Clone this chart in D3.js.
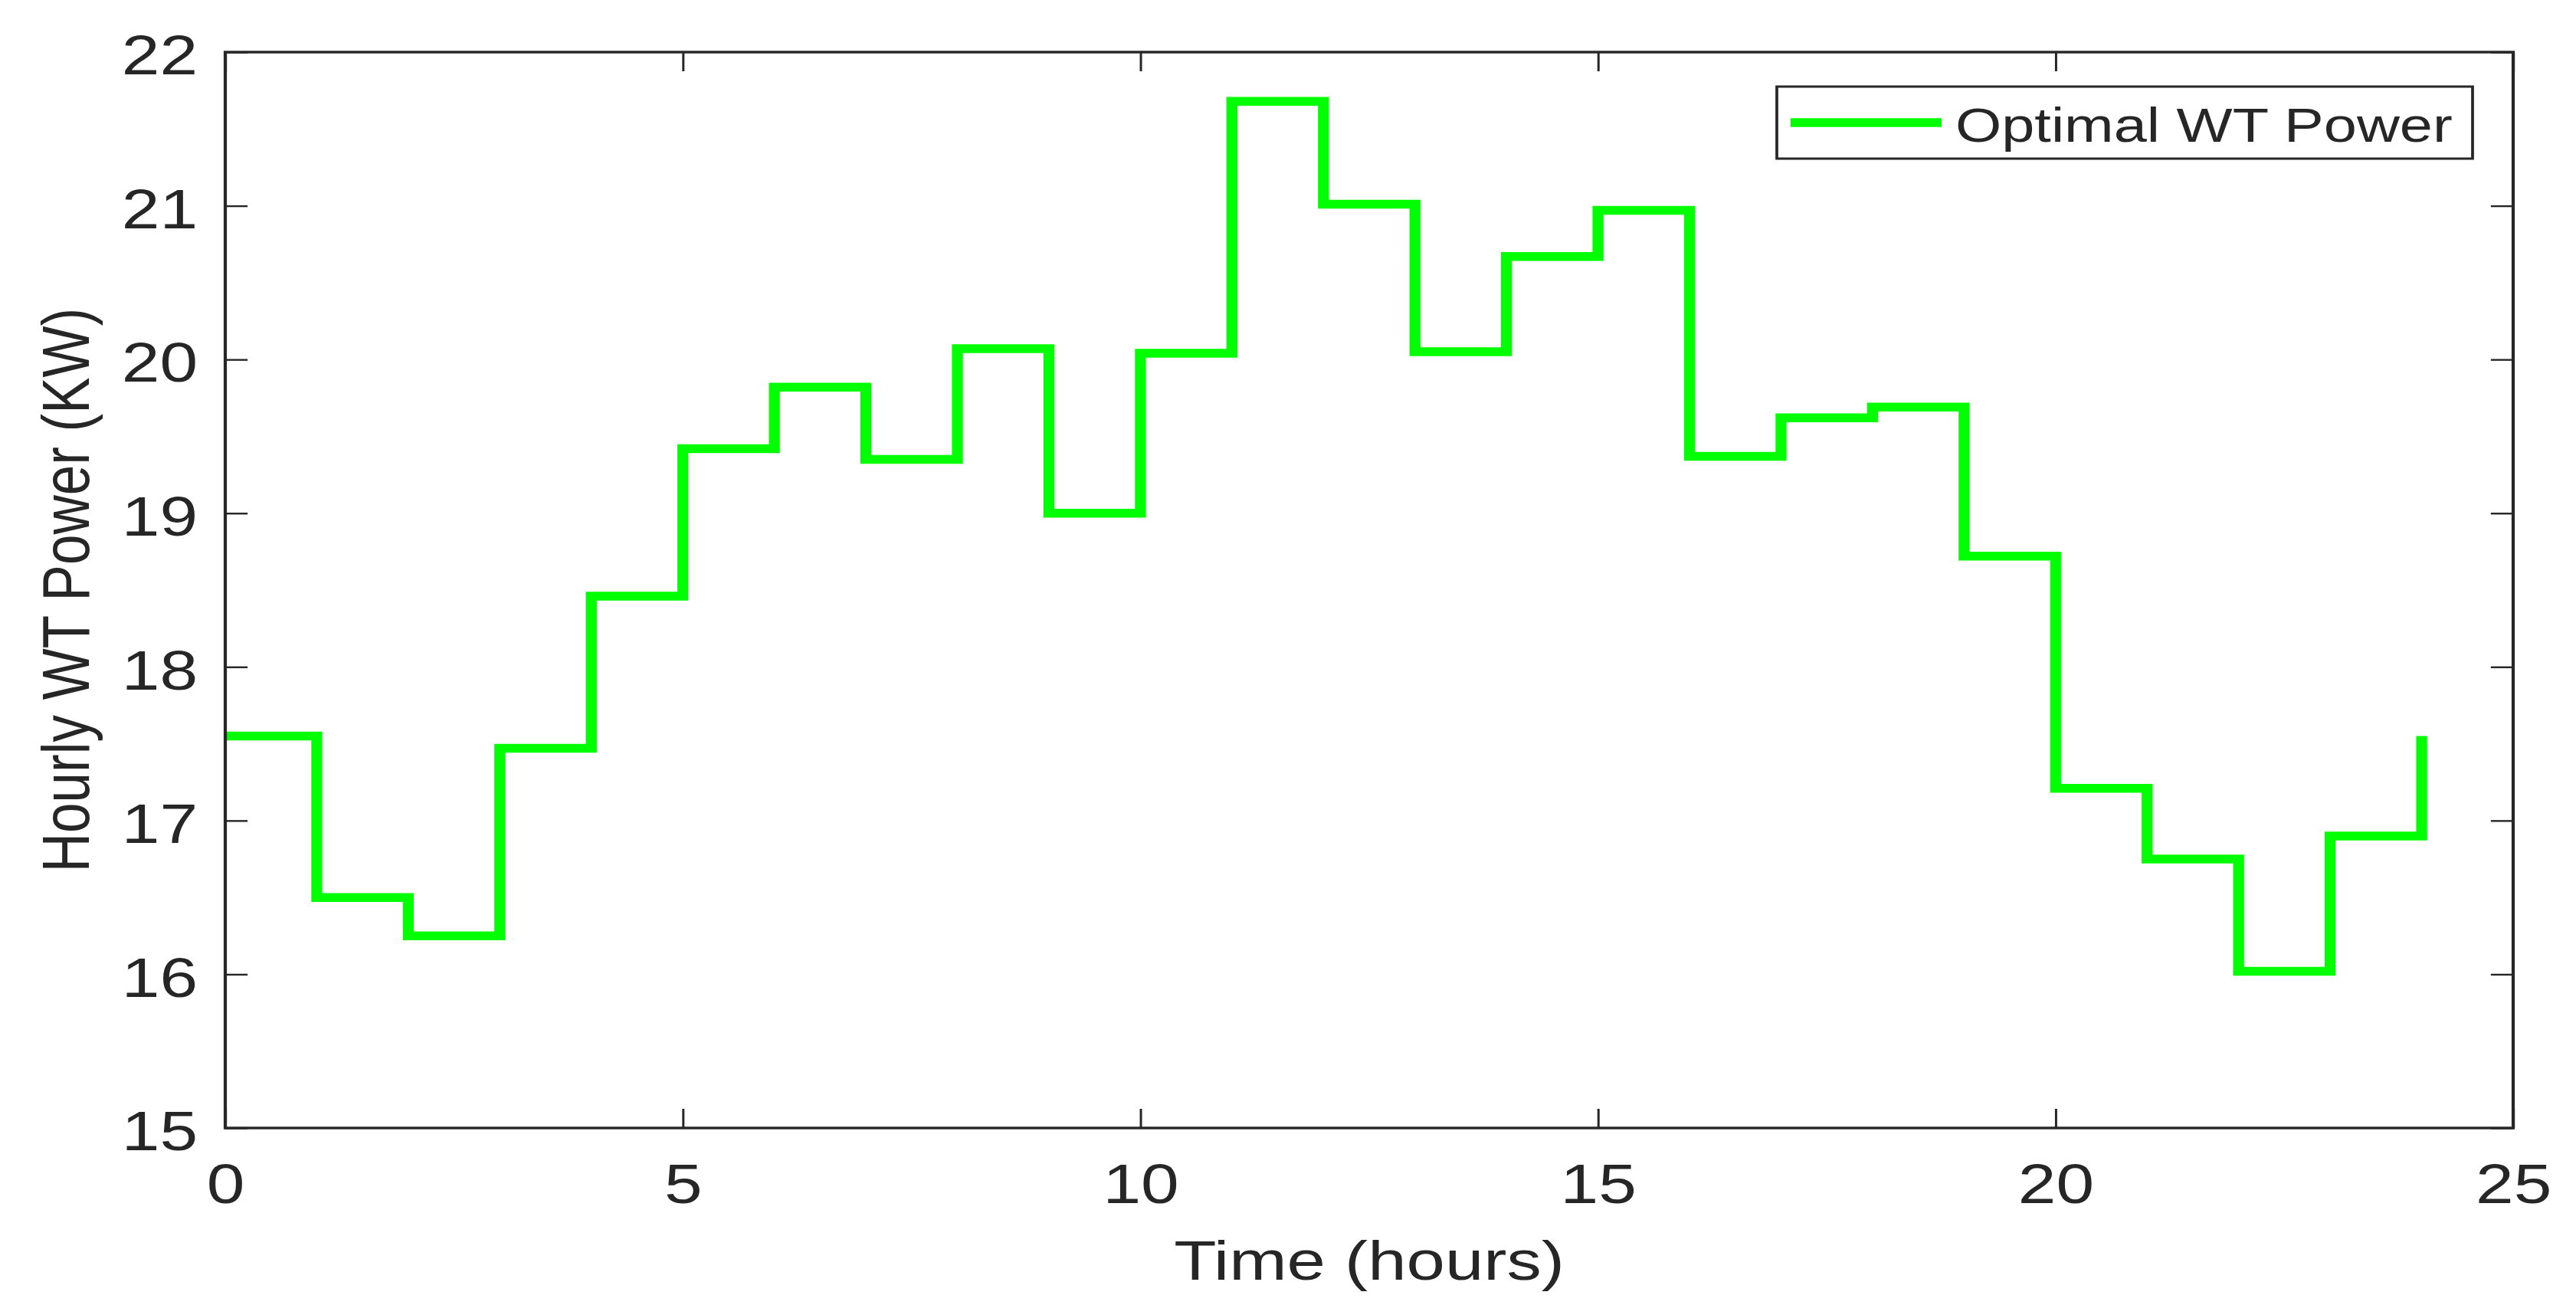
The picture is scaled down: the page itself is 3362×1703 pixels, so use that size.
<!DOCTYPE html>
<html>
<head>
<meta charset="utf-8">
<script src="https://cdn.jsdelivr.net/npm/d3@7/dist/d3.min.js"></script>
<style>
  html, body { margin: 0; padding: 0; background: #ffffff; }
  svg { display: block; }
  text { font-family: "Liberation Sans", Arial, Helvetica, sans-serif; fill: #262626; }
</style>
</head>
<body>
<svg id="chart" width="3362" height="1703"></svg>
<script>
// ---- data ----
const hours = [0,1,2,3,4,5,6,7,8,9,10,11,12,13,14,15,16,17,18,19,20,21,22,23,24];
const wtPower = [17.55,16.50,16.25,17.47,18.46,19.42,19.82,19.35,20.07,19.00,20.04,21.68,21.01,
                 20.05,20.67,20.97,19.37,19.62,19.69,18.72,17.21,16.75,16.02,16.90,17.55];
const xTicks = [0,5,10,15,20,25];
const yTicks = [15,16,17,18,19,20,21,22];
const seriesName = "Optimal WT Power";
const xLabel = "Time (hours)";
const yLabel = "Hourly WT Power (KW)";

(function () {
// ---- layout ----
const K = 1.24;              // horizontal stretch of the whole figure
const pL = 294 / K, pR = 3280 / K, pT = 68, pB = 1472;
const axisColor = "#262626";

const svg = d3.select("#chart");
const g = svg.append("g").attr("transform", `scale(${K},1)`);

const x = d3.scaleLinear().domain([0, 25]).range([pL, pR]);
const y = d3.scaleLinear().domain([15, 22]).range([pB, pT]);

g.append("rect").attr("x", pL).attr("y", pT)
  .attr("width", pR - pL).attr("height", pB - pT).attr("fill", "#fff");

// data line (stairs)
const line = d3.line().x(d => x(d[0])).y(d => y(d[1])).curve(d3.curveStepAfter);
g.append("path")
  .datum(hours.map((h, i) => [h, wtPower[i]]))
  .attr("d", line)
  .attr("fill", "none")
  .attr("stroke", "#00ff00")
  .attr("stroke-width", 11.5)
  .attr("stroke-linejoin", "miter")
  .attr("stroke-linecap", "butt");

function styleAxis(sel) {
  sel.select(".domain").remove();
  sel.selectAll(".tick line").attr("stroke", axisColor).attr("stroke-width", 2.4);
  sel.selectAll(".tick text").attr("fill", axisColor).style("font-size", "72px")
     .style("font-family", '"Liberation Sans", Arial, Helvetica, sans-serif');
}

const xAxis = g.append("g").attr("transform", `translate(0,${pB})`)
  .call(d3.axisBottom(x).tickValues(xTicks).tickFormat(d3.format("d"))
        .tickSizeInner(-25).tickSizeOuter(0).tickPadding(47));
styleAxis(xAxis);
xAxis.selectAll(".tick text").attr("dy", "0.71em");

const xAxisTop = g.append("g").attr("transform", `translate(0,${pT})`)
  .call(d3.axisTop(x).tickValues(xTicks).tickFormat("").tickSizeInner(-25).tickSizeOuter(0));
styleAxis(xAxisTop);

const yAxis = g.append("g").attr("transform", `translate(${pL},0)`)
  .call(d3.axisLeft(y).tickValues(yTicks).tickFormat(d3.format("d"))
        .tickSizeInner(-23.5).tickSizeOuter(0).tickPadding(29));
styleAxis(yAxis);
yAxis.selectAll(".tick text").attr("dy", "0.40em");

const yAxisRight = g.append("g").attr("transform", `translate(${pR},0)`)
  .call(d3.axisRight(y).tickValues(yTicks).tickFormat("").tickSizeInner(-23.5).tickSizeOuter(0));
styleAxis(yAxisRight);

g.append("rect").attr("x", pL).attr("y", pT)
  .attr("width", pR - pL).attr("height", pB - pT)
  .attr("fill", "none").attr("stroke", axisColor).attr("stroke-width", 3.4);

g.append("text")
  .attr("x", (pL + pR) / 2).attr("y", 1670)
  .attr("text-anchor", "middle")
  .style("font-size", "73px")
  .text(xLabel);

g.append("text")
  .attr("transform", `translate(${116 / K},${(pT + pB) / 2}) rotate(-90)`)
  .attr("text-anchor", "middle")
  .style("font-size", "71px")
  .text(yLabel);

const lg = g.append("g");
lg.append("rect")
  .attr("x", 2319 / K).attr("y", 113)
  .attr("width", (3227 - 2319) / K).attr("height", 207 - 113)
  .attr("fill", "#fff").attr("stroke", axisColor).attr("stroke-width", 3);
lg.append("line")
  .attr("x1", 2337 / K).attr("x2", 2534 / K).attr("y1", 160).attr("y2", 160)
  .attr("stroke", "#00ff00").attr("stroke-width", 11.5);
lg.append("text")
  .attr("x", 2552 / K).attr("y", 185)
  .style("font-size", "62.5px")
  .text(seriesName);
})();
</script>
</body>
</html>
